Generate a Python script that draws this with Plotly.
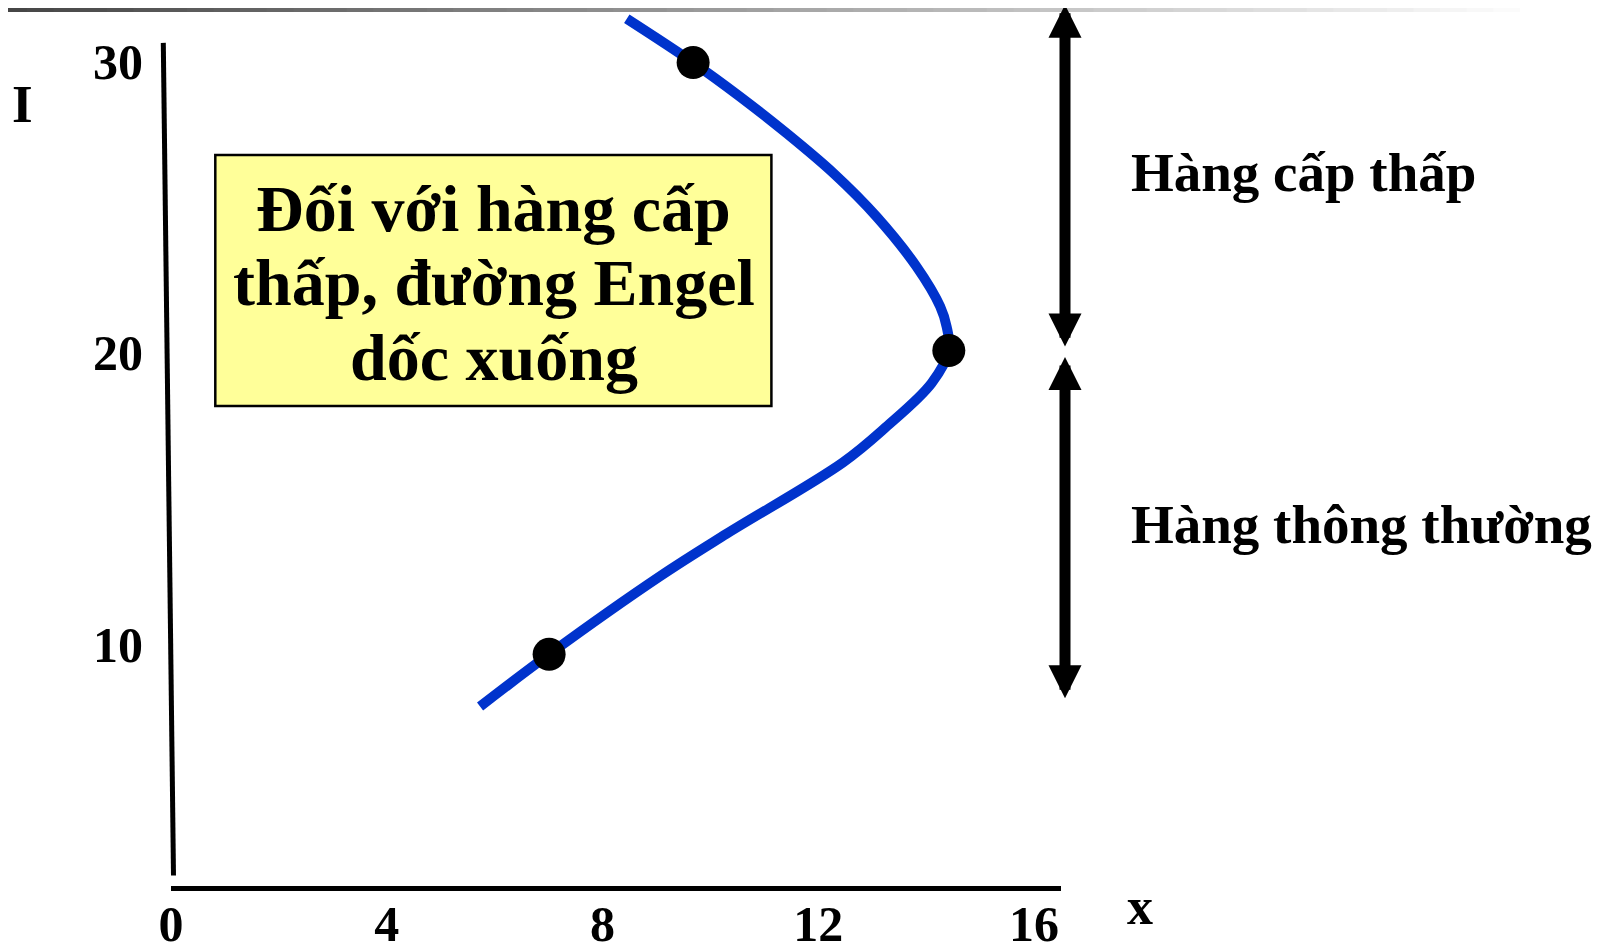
import plotly.graph_objects as go

# Engel curve (x = quantity, I = income)
curve_x = [8.45, 9.68, 10.55, 11.41, 12.28, 13.08, 13.82, 14.26, 14.38, 14.42,
           14.10, 13.25, 12.46, 10.30, 9.07, 7.01, 5.73]
curve_i = [31.45, 29.95, 28.78, 27.53, 26.16, 24.67, 22.96, 21.59, 20.90, 20.08,
           18.96, 17.45, 16.25, 13.80, 12.35, 9.67, 7.88]

# marked points on the curve
point_x = [9.68, 14.42, 7.01]
point_i = [29.95, 20.08, 9.67]

x_ticks = [0, 4, 8, 12, 16]
i_ticks = [10, 20, 30]

# income spans of the two double arrows on the right
inferior_range = [20.17, 31.93]
normal_range = [8.11, 19.86]

box_lines = ["Đối với hàng cấp", "thấp, đường Engel", "dốc xuống"]
range_labels = ["Hàng cấp thấp", "Hàng thông thường"]

FONT = "Liberation Serif"

# the html body has an 8px margin, so the figure sits at (8, 8) on the page
OFF = 8
# plot area in page pixels, used to place the slide decorations
PLOT_L, PLOT_R, PLOT_T, PLOT_B = 171, 1061, 8, 886


def px(x):
    return (x - PLOT_L) / (PLOT_R - PLOT_L)


def py(y):
    return (PLOT_B - y) / (PLOT_B - PLOT_T)


fig = go.Figure()

fig.add_trace(go.Scatter(x=curve_x, y=curve_i, mode="lines",
                         line=dict(color="#0033cc", width=10, shape="spline"),
                         hoverinfo="skip", showlegend=False))
fig.add_trace(go.Scatter(x=point_x, y=point_i, mode="markers",
                         marker=dict(color="black", size=33),
                         cliponaxis=False, showlegend=False))

shapes = []

# grey gradient bar at the top of the slide
n_seg = 60
for k in range(n_seg):
    x0 = 1600 * k / n_seg
    x1 = 1600 * (k + 1) / n_seg
    g = min(255, int(70 + 185 * (x0 / 1520)))
    shapes.append(dict(type="rect", xref="paper", yref="paper",
                       x0=px(x0), x1=px(x1 + 1), y0=py(12), y1=py(5),
                       fillcolor=f"rgb({g},{g},{g})", line=dict(width=0), layer="below"))

# hand drawn vertical axis (slightly slanted)
shapes.append(dict(type="line", xref="paper", yref="paper",
                   x0=px(163.3), y0=py(42.9), x1=px(173.5), y1=py(875.5),
                   line=dict(color="black", width=5)))

# yellow note box
shapes.append(dict(type="rect", xref="paper", yref="paper",
                   x0=px(215.3), x1=px(771.4), y0=py(406.1), y1=py(155.1),
                   fillcolor="#ffff99", line=dict(color="black", width=2.5), layer="below"))

annotations = []
for txt, yc in zip(box_lines, [208, 282, 357]):
    annotations.append(dict(text=txt, xref="paper", yref="paper", x=px(493.5), y=py(yc),
                            xanchor="center", yanchor="middle", showarrow=False,
                            font=dict(family=FONT, size=66, color="black", weight="bold")))

for txt, yc in zip(range_labels, [172, 524]):
    annotations.append(dict(text=txt, xref="paper", yref="paper", x=px(1129), y=py(yc),
                            xanchor="left", yanchor="middle", showarrow=False,
                            font=dict(family=FONT, size=55, color="black", weight="bold")))

# axis titles
annotations.append(dict(text="I", xref="paper", yref="paper", x=px(22.5), y=py(104),
                        xanchor="center", yanchor="middle", showarrow=False,
                        font=dict(family=FONT, size=53, color="black", weight="bold")))
annotations.append(dict(text="x", xref="paper", yref="paper", x=px(1140), y=py(907),
                        xanchor="center", yanchor="middle", showarrow=False,
                        font=dict(family=FONT, size=52, color="black", weight="bold")))

# double arrows marking the income ranges
for lo, hi in [inferior_range, normal_range]:
    annotations.append(dict(text="", xref="paper", yref="y", x=px(1065), y=hi,
                            axref="pixel", ayref="y", ax=0, ay=lo,
                            showarrow=True, arrowside="end+start",
                            arrowhead=2, startarrowhead=2,
                            arrowsize=0.6, startarrowsize=0.6,
                            arrowwidth=11, arrowcolor="black"))

fig.update_layout(
    width=1600 - OFF, height=944 - OFF, autosize=False,
    margin=dict(l=PLOT_L - OFF, r=1600 - PLOT_R, t=PLOT_T - OFF, b=944 - PLOT_B, pad=0),
    paper_bgcolor="white", plot_bgcolor="white",
    showlegend=False,
    shapes=shapes,
    annotations=annotations,
    xaxis=dict(range=[0, 16.5], tickvals=x_ticks, ticks="", automargin=False,
               showline=True, linecolor="black", linewidth=4.5,
               showgrid=False, zeroline=False, ticklabelstandoff=-10,
               tickfont=dict(family=FONT, size=50, color="black", weight="bold")),
    yaxis=dict(range=[1.73, 31.82], tickvals=i_ticks, ticks="", automargin=False,
               showline=False, showgrid=False, zeroline=False, ticklabelstandoff=27,
               tickfont=dict(family=FONT, size=50, color="black", weight="bold")),
)

fig.write_html("out.html")
